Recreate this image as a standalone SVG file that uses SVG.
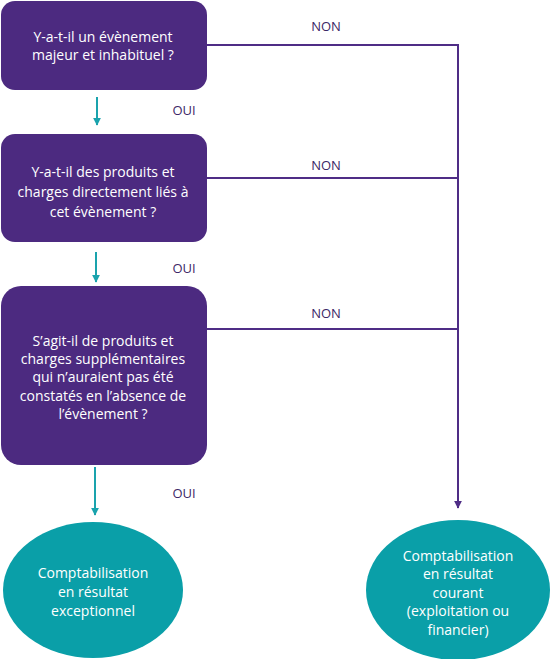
<svg xmlns="http://www.w3.org/2000/svg" width="550" height="659" viewBox="0 0 550 659">
<defs>
<style>
.box{fill:#4c2a80}
.ell{fill:#0a9fa8}
.t{font-family:"Open Sans","Liberation Sans",sans-serif;font-size:14px;fill:#fff;text-anchor:middle}
.lbl{font-family:"Open Sans","Liberation Sans",sans-serif;font-size:13px;fill:#3b2766;text-anchor:middle}
.np{stroke:#4f2d86;stroke-width:2;fill:none}
.tl{stroke:#1aa3ad;stroke-width:2;fill:none}
</style>
<marker id="ap" viewBox="0 0 10 10" refX="9" refY="5" markerWidth="4" markerHeight="4" orient="auto" markerUnits="strokeWidth"><path d="M0,0L10,5L0,10z" fill="#4f2d86"/></marker>
<marker id="at" viewBox="0 0 10 10" refX="9" refY="5" markerWidth="4" markerHeight="4" orient="auto" markerUnits="strokeWidth"><path d="M0,0L10,5L0,10z" fill="#1aa3ad"/></marker>
</defs>
<rect width="550" height="659" fill="#fff"/>
<g id="connectors">
<path class="np" d="M207,45H458V508" marker-end="url(#ap)"/>
<path class="np" d="M207,178H458"/>
<path class="np" d="M207,329H458"/>
<path class="tl" d="M97,97V125" marker-end="url(#at)"/>
<path class="tl" d="M96,252V282" marker-end="url(#at)"/>
<path class="tl" d="M95,467V515" marker-end="url(#at)"/>
<text class="lbl" x="326" y="31">NON</text>
<text class="lbl" x="326" y="170">NON</text>
<text class="lbl" x="326" y="318">NON</text>
<text class="lbl" x="184" y="115">OUI</text>
<text class="lbl" x="184" y="273">OUI</text>
<text class="lbl" x="184" y="498">OUI</text>
</g>
<g id="q1">
<rect class="box" x="1" y="1" width="206" height="89" rx="14"/>
<text class="t" x="103" y="42">Y-a-t-il un évènement</text>
<text class="t" x="103" y="60">majeur et inhabituel ?</text>
</g>
<g id="q2">
<rect class="box" x="1" y="134" width="206" height="108" rx="14"/>
<text class="t" x="103" y="177">Y-a-t-il des produits et</text>
<text class="t" x="103" y="197">charges directement liés à</text>
<text class="t" x="103" y="217">cet évènement ?</text>
</g>
<g id="q3">
<rect class="box" x="1" y="286" width="206" height="179" rx="20"/>
<text class="t" x="103" y="346">S’agit-il de produits et</text>
<text class="t" x="103" y="364">charges supplémentaires</text>
<text class="t" x="103" y="382">qui n’auraient pas été</text>
<text class="t" x="103" y="401">constatés en l’absence de</text>
<text class="t" x="103" y="419">l’évènement ?</text>
</g>
<g id="exceptionnel">
<ellipse class="ell" cx="93" cy="590" rx="90" ry="68"/>
<text class="t" x="93" y="578">Comptabilisation</text>
<text class="t" x="93" y="597">en résultat</text>
<text class="t" x="93" y="616">exceptionnel</text>
</g>
<g id="courant">
<ellipse class="ell" cx="458" cy="590" rx="92" ry="70"/>
<text class="t" x="458" y="561">Comptabilisation</text>
<text class="t" x="458" y="579">en résultat</text>
<text class="t" x="458" y="598">courant</text>
<text class="t" x="458" y="616">(exploitation ou</text>
<text class="t" x="458" y="635">financier)</text>
</g>
</svg>
